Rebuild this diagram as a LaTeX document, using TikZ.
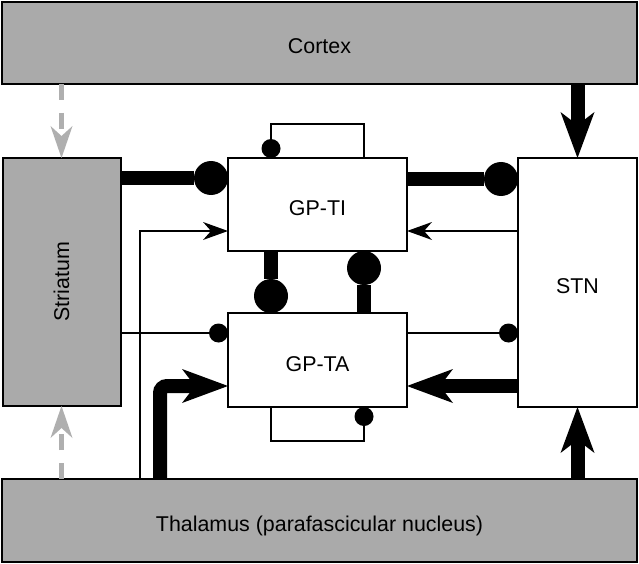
\documentclass[tikz,border=0pt]{standalone}
\usepackage{fontspec}
\usepackage{graphicx}
\setmainfont{Liberation Sans}
\usetikzlibrary{arrows.meta}
\definecolor{boxgray}{RGB}{170,170,170}
\definecolor{dashgray}{RGB}{175,175,175}
\begin{document}
\begin{tikzpicture}[x=1pt,y=-1pt,
 box/.style={draw=black, line width=2pt, inner sep=0pt, outer sep=0pt, font=\fontsize{21.4}{24}\selectfont},
 graybox/.style={box, fill=boxgray},
 whitebox/.style={box, fill=white},
 capfix/.style={text height=22pt, text depth=0pt},
 thickline/.style={line width=14pt},
 thinline/.style={line width=2pt},
 bigdot/.style={-{Circle[length=34pt,line width=0pt]}},
 smalldot/.style={-{Circle[length=19pt,line width=0pt]}},
 bigarrow/.style={-{Stealth[length=46pt,width=34pt,inset=13pt,line width=0pt]}},
 smallarrow/.style={-{Stealth[length=25pt,width=18pt,inset=8pt,line width=0pt]}},
 grayarrow/.style={draw=dashgray, line width=5pt, dash pattern=on 16pt off 13pt, -{Stealth[length=32pt,width=22pt,inset=10pt,line width=0pt]}},
]
\useasboundingbox (0,0) rectangle (639,564);
\fill[white] (0,0) rectangle (639,564);

\node[graybox, capfix, minimum width=635pt, minimum height=82pt] (cortex) at (319.5,43) {Cortex};
\node[graybox, minimum width=118pt, minimum height=248pt] (striatum) at (61.5,282) {\rotatebox{90}{Striatum}};
\node[whitebox, capfix, minimum width=179pt, minimum height=93pt] (gpti) at (317.5,204.5) {GP-TI};
\node[whitebox, capfix, minimum width=179pt, minimum height=94pt] (gpta) at (317.5,360) {GP-TA};
\node[whitebox, capfix, minimum width=119pt, minimum height=249pt] (stn) at (577.5,282.5) {STN};
\node[graybox, capfix, minimum width=635pt, minimum height=83pt] (thal) at (319.5,520.5) {Thalamus (parafascicular nucleus)};

% gray dashed inputs to striatum
\draw[grayarrow] (cortex.south -| striatum.north) -- (striatum.north);
\draw[grayarrow] (thal.north -| striatum.south) -- (striatum.south);

% cortex / thalamus to STN
\draw[thickline, bigarrow] (cortex.south -| stn.north) -- (stn.north);
\draw[thickline, bigarrow] (thal.north -| stn.south) -- (stn.south);

% striatum and STN with GP-TI
\draw[thickline, bigdot] (striatum.east |- 0,178) -- (gpti.west |- 0,178);
\draw[thickline, bigdot] (gpti.east |- 0,179) -- (stn.west |- 0,179);
\draw[thinline, smallarrow] (stn.west |- 0,231) -- (gpti.east |- 0,231);
\draw[thinline, smallarrow] (thal.north -| 140,0) |- (gpti.west |- 0,231);

% striatum and STN with GP-TA
\draw[thinline, smalldot] (striatum.east |- 0,333) -- (gpta.west |- 0,333);
\draw[thinline, smalldot] (gpta.east |- 0,333) -- (stn.west |- 0,333);
\draw[thickline, bigarrow] (stn.west |- 0,386) -- (gpta.east |- 0,386);
\draw[thickline, bigarrow, rounded corners=7pt] (thal.north -| 160,0) |- (gpta.west |- 0,386);

% between GP-TI and GP-TA
\draw[thickline, bigdot] (gpti.south -| 271,0) -- (gpta.north -| 271,0);
\draw[thickline, bigdot] (gpta.north -| 364,0) -- (gpti.south -| 364,0);

% self loops
\draw[thinline, smalldot] (gpti.north -| 364,0) -- (364,124) -| (gpti.north -| 271,0);
\draw[thinline, smalldot] (gpta.south -| 271,0) -- (271,441) -| (gpta.south -| 364,0);
\end{tikzpicture}
\end{document}
